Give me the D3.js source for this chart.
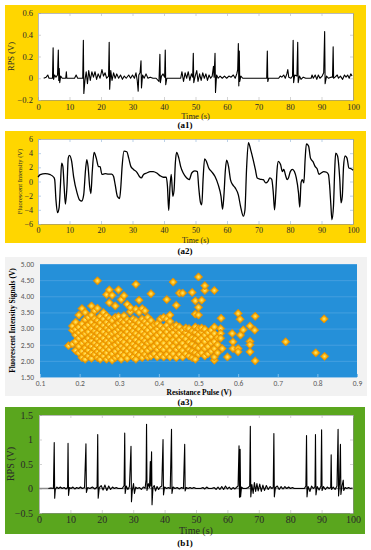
<!DOCTYPE html>
<html>
<head>
<meta charset="utf-8">
<script src="https://cdn.jsdelivr.net/npm/d3@7"></script>
<style>
body{margin:0;background:#fff}
svg{display:block}
</style>
</head>
<body>
<main></main>
<script>
// shared time axis for the three signal traces
var timeTicks = [0,10,20,30,40,50,60,70,80,90,100]

// (a1) resistance pulse signal, [time s, volts]
var rpsA1Ticks = [-0.2,0,0.2,0.4,0.6]
var rpsA1 = [[1.8,0],[2.6,0.01],[3.1,0.03],[3.5,0],[4.6,0],[4.8,0.28],[4.95,-0.01],[5.3,0.03],[5.7,0.01],[6.2,0.03],[6.45,0.26],[6.6,-0.02],[6.75,0.09],[6.9,-0.04],[7.2,0.02],[7.7,0],[8.8,0],[9.0,0.06],[9.15,0],[11.6,0],[12.1,0.03],[12.6,0],[14.2,0],[14.4,0.35],[14.55,-0.14],[14.9,-0.02],[15.3,0.06],[15.7,-0.05],[16.1,0.07],[16.6,-0.02],[17.1,0.06],[17.6,0.01],[18.1,0.06],[18.6,-0.01],[19.1,0.04],[19.7,0],[20.3,0.08],[20.8,0.02],[21.3,0.05],[21.8,0],[22.4,0.02],[22.6,0.33],[22.75,-0.1],[23.1,0.07],[23.5,-0.02],[24,0.05],[24.5,0],[25,0.04],[25.6,0],[26.2,0.03],[26.8,-0.01],[27.4,0.02],[28,0],[28.8,0.03],[29.4,0],[30,0.03],[30.6,0],[31.1,0.05],[31.5,-0.02],[31.8,-0.12],[32.0,0.03],[32.4,0.05],[32.7,0.16],[32.85,-0.09],[33.2,0.03],[33.7,0],[34.3,0.04],[34.9,0],[35.6,0.01],[36.5,0],[37.5,0],[38.4,-0.03],[38.7,0.22],[38.85,-0.04],[39.2,0.02],[39.7,0.04],[40.2,0.01],[40.4,0.26],[40.55,-0.06],[40.9,0],[45.3,0],[45.7,0.06],[46.2,-0.03],[46.7,0.05],[47.2,0],[47.7,0.06],[48.2,-0.02],[48.7,0.04],[49.1,0.01],[49.3,0.23],[49.45,-0.04],[49.9,0.02],[50.4,0.07],[50.8,-0.03],[51.3,0.04],[51.8,-0.02],[52.3,0.05],[52.8,0],[53.3,0.04],[53.8,-0.02],[54.3,0.03],[54.8,0],[55.3,0.02],[55.7,0.11],[55.9,0.01],[56.2,0.23],[56.35,-0.13],[56.7,0.03],[57.2,0],[57.8,0.02],[58.5,0],[59.2,0.02],[59.9,0],[60.6,0.02],[61.3,0.01],[62,0.03],[62.6,0],[63.1,0.04],[63.4,0.08],[63.6,0.32],[63.75,-0.07],[63.9,0.25],[64.05,-0.03],[64.4,0.02],[65,0],[72.6,0],[72.8,0.25],[72.95,-0.03],[73.2,0],[76.4,0],[76.9,0.02],[77.4,0.01],[78,0.03],[78.5,0],[79,0.04],[79.3,0.08],[79.6,0.01],[80.3,0],[80.8,0.02],[81.0,0.35],[81.15,-0.04],[81.5,0.03],[82.2,0.02],[82.45,0.33],[82.6,-0.04],[83,0.02],[83.5,-0.01],[84.2,0.01],[85,0],[86.7,0],[87,0.03],[87.4,0],[88,0.03],[88.5,-0.01],[89,0.03],[89.5,0],[90.2,0.02],[90.7,0.05],[91,0.43],[91.15,-0.05],[91.6,0.02],[92.2,0],[93,0.01],[93.5,0.01],[93.7,0.29],[93.85,0],[94.3,0.01],[95,0.03],[95.4,0],[96,0.02],[96.7,-0.01],[97.3,0.03],[97.8,0.01],[98.3,0.03],[98.8,0],[99.3,0.04],[99.7,0.02]]

// (a2) fluorescent intensity, [time s, volts]
var fluorTicks = [-6,-4,-2,0,2,4,6]
var fluorA2 = [[0,0.63],[0.7,0.96],[2.3,1.1],[3.9,0.96],[5,0.6],[5.3,0.26],[5.7,-2.6],[6.2,-4.4],[6.7,-3.7],[7.1,-0.7],[7.5,2.6],[7.9,2.1],[8.3,-0.7],[8.7,-3.2],[9.2,-0.7],[9.6,3.3],[10,3.7],[10.7,2.8],[11.3,0.7],[12.4,-1.6],[13.2,-2.6],[13.9,-2.75],[14.5,-1.9],[15.1,1.7],[15.5,3.1],[15.9,2.1],[16.4,-0.7],[16.8,-1.7],[17.2,1.2],[17.8,4.1],[18.5,3.3],[19.2,2.1],[19.7,2.1],[20.3,1.0],[21.3,1.1],[22.4,1.05],[23.4,1.05],[24,0.7],[24.5,-0.45],[25.2,-2.1],[25.9,-2.4],[26.3,-0.7],[26.7,2.1],[27.3,4.3],[28.2,4.2],[28.8,3.3],[29.5,2.1],[30.3,1.7],[31.4,1.3],[32.2,0.7],[32.8,0.5],[33.5,1.0],[34.5,1.2],[35.6,1.4],[36.6,1.4],[37.7,1.2],[38.8,0.8],[39.8,0.6],[40.7,0.6],[41.1,-0.7],[41.5,-4.1],[41.9,-0.7],[42.3,1.0],[42.8,-2.1],[43.2,-1.2],[43.6,2.6],[44,4.1],[44.7,3.3],[45.3,2.1],[46.1,1.2],[47.2,0.5],[48,0.26],[48.8,1.2],[49.8,1.5],[50.6,1.4],[51,-0.7],[51.6,-3.0],[52,-3.3],[52.4,0.26],[52.9,3.2],[53.5,2.8],[54.2,1.9],[55.1,1.4],[56.2,0.7],[57.2,-0.45],[58.1,-2.1],[58.6,-3.9],[59,-2.1],[59.5,1.7],[59.9,3.0],[60.5,2.1],[61.1,0.26],[61.8,-0.45],[62.6,-0.9],[63.6,-1.9],[64.3,-3.5],[65.2,-4.9],[65.7,-4.0],[66.2,1.7],[66.8,5.5],[67.5,4.5],[68.3,3.1],[69,1.7],[69.6,0.5],[70.4,0.35],[71.5,0.26],[72.3,-0.2],[73,0.03],[73.6,0.5],[74.2,0.3],[74.7,-1.6],[75.1,-4.0],[75.5,-1.6],[75.9,1.7],[76.3,2.85],[77,2.4],[77.6,1.4],[78,1.7],[78.7,0.7],[79.1,0.26],[79.5,0.5],[80.1,1.4],[80.8,1.7],[81.4,1.4],[82,0.5],[82.7,-1.6],[83.1,-3.6],[83.5,-0.2],[83.9,0.26],[84.4,-0.2],[84.8,3.1],[85.2,5.3],[85.9,5.0],[86.5,3.3],[87.3,2.8],[88,2.1],[88.6,1.8],[89.2,1.0],[89.9,1.2],[90.7,1.4],[91.6,1.3],[92.2,1.0],[92.6,-0.7],[93,-3.5],[93.3,-5.4],[93.8,-3.5],[94.2,1.7],[94.5,4.0],[95.1,3.6],[95.8,0.3],[96.2,-3.0],[96.6,-2.1],[97,2.1],[97.5,3.6],[98.1,3.3],[98.7,1.9],[99.4,1.8],[100,1.6]]

// (a3) scatter: resistance pulse vs fluorescent signal
var pulseTicks = [0.1,0.2,0.3,0.4,0.5,0.6,0.7,0.8,0.9]
var signalTicks = [1.5,2,2.5,3,3.5,4,4.5,5]
// dense part, one entry per pulse value with its signal readings
var clusterCols = [
  [0.172,[2.47]],
  [0.182,[2.52,2.95,3.08]],
  [0.19,[2.32,2.6,2.8,2.98,3.2]],
  [0.198,[2.25,2.45,2.7,2.88,3.05,3.42]],
  [0.206,[2.1,2.3,2.55,2.78,2.95,3.15,3.62]],
  [0.214,[2.05,2.22,2.4,2.62,2.85,3.05,3.28,3.5]],
  [0.222,[2.15,2.33,2.5,2.7,2.9,3.12,3.35]],
  [0.23,[2.08,2.25,2.45,2.62,2.8,3.0,3.2,3.42,3.7]],
  [0.238,[2.2,2.38,2.55,2.75,2.92,3.1,3.3,3.55]],
  [0.245,[2.1,2.28,2.48,2.68,2.86,3.05,3.25,3.63,4.48]],
  [0.252,[2.05,2.22,2.4,2.6,2.78,2.98,3.18,3.38]],
  [0.26,[2.15,2.32,2.52,2.7,2.9,3.1,3.3,3.5]],
  [0.268,[2.05,2.25,2.43,2.62,2.82,3.02,3.2,3.4,4.05]],
  [0.275,[2.12,2.35,2.55,2.75,2.95,3.12,3.32,3.8,4.2]],
  [0.282,[2.02,2.22,2.45,2.65,2.85,3.05,3.25,4.03]],
  [0.29,[2.1,2.3,2.5,2.7,2.9,3.1,3.35,3.7]],
  [0.298,[2.15,2.38,2.58,2.78,2.98,3.18,3.38,4.2]],
  [0.305,[2.05,2.25,2.45,2.65,2.85,3.05,3.25,3.9]],
  [0.312,[2.18,2.38,2.58,2.8,3.0,3.2,3.4,4.02]],
  [0.32,[2.08,2.3,2.5,2.7,2.9,3.1,3.28,3.75]],
  [0.328,[2.2,2.4,2.62,2.82,3.02,3.22,3.52,3.65]],
  [0.335,[2.12,2.32,2.52,2.72,2.92,3.12,3.3]],
  [0.342,[2.05,2.25,2.45,2.65,2.85,3.05,3.25,3.6,4.37]],
  [0.35,[2.18,2.38,2.58,2.78,2.98,3.18,3.5,3.88]],
  [0.358,[2.1,2.3,2.5,2.7,2.9,3.1,3.3,3.62]],
  [0.365,[2.2,2.42,2.62,2.82,3.02,3.22,3.55]],
  [0.372,[2.12,2.32,2.55,2.75,2.95,3.15,3.35]],
  [0.38,[2.15,2.4,2.6,2.85,3.05,3.25,4.08]],
  [0.388,[2.22,2.45,2.7,2.92,3.12]],
  [0.396,[2.12,2.35,2.55,2.8,3.0,3.15]],
  [0.404,[2.2,2.42,2.65,2.88,3.08,3.3]],
  [0.412,[2.12,2.35,2.55,2.78,3.0,3.35]],
  [0.42,[2.2,2.45,2.68,2.9,3.1,3.3,3.9]],
  [0.428,[2.12,2.32,2.55,2.8,3.0,3.22,3.42]],
  [0.436,[2.22,2.45,2.65,2.88,3.05,4.44]],
  [0.444,[2.1,2.35,2.58,2.78,2.98,3.1,3.72]],
  [0.452,[2.2,2.42,2.65,2.88,3.05,4.1]],
  [0.46,[2.12,2.32,2.55,2.75,2.95,4.1]],
  [0.468,[2.22,2.45,2.68,2.88,3.02]],
  [0.476,[2.15,2.35,2.58,2.8,3.0]],
  [0.484,[2.1,2.3,2.52,2.72,2.92,4.12]],
  [0.492,[2.05,2.25,2.45,2.68,2.88,3.05,3.45,3.86]],
  [0.5,[2.2,2.4,2.62,2.82,3.0,3.42,3.66,4.6]],
  [0.508,[2.25,2.48,2.7,2.9,3.02,3.88]],
  [0.516,[2.15,2.38,2.6,2.8,2.98,4.18,4.33]],
  [0.524,[2.22,2.45,2.68,2.88]],
  [0.532,[2.3,2.55,2.75,2.95]],
  [0.54,[2.02,2.12,2.38,2.6,2.85,3.05,4.18]],
  [0.548,[2.25,2.5,2.72]]
]
// sparse points to the right of the cluster, [pulse, signal]
var outliers = [[0.556,3.0],[0.556,2.85],[0.556,2.7],[0.557,3.32],[0.56,2.38],[0.573,2.12],[0.585,2.85],[0.587,2.59],[0.587,2.38],[0.6,3.47],[0.6,2.38],[0.6,2.28],[0.605,3.29],[0.606,2.8],[0.613,2.96],[0.63,3.08],[0.63,2.6],[0.63,2.5],[0.63,2.28],[0.642,2.95],[0.643,3.38],[0.643,2.0],[0.72,2.59],[0.796,2.25],[0.818,2.14],[0.817,3.3]]

// (b1) resistance pulse signal, second sample
var rpsB1Ticks = [-0.5,0,0.5,1,1.5]
var rpsB1 = [[3,0],[3.8,0.01],[4.6,0],[4.85,0.94],[5.0,-0.2],[5.2,-0.02],[5.7,0.03],[6.2,0],[6.8,0.03],[7.4,0],[8,0.02],[8.6,-0.01],[9.1,0.02],[9.25,0.92],[9.4,-0.14],[9.7,0.02],[10.2,0],[10.8,0.03],[11.4,-0.01],[12,0.02],[12.6,0],[13.2,0.03],[13.8,0],[14.5,0.02],[14.95,0.91],[15.1,-0.08],[15.5,0.02],[16.2,0],[17,0.03],[17.8,-0.01],[18.5,0.03],[18.7,1.1],[18.85,-0.2],[19.2,0.02],[19.8,0.06],[20.4,-0.03],[21,0.07],[21.6,-0.04],[22.2,0.05],[22.8,-0.02],[23.4,0.03],[24,0],[24.6,0.02],[25.2,0],[26.5,0],[27.1,0.06],[27.3,1.13],[27.45,-0.1],[27.8,0.05],[28.3,-0.02],[28.8,0.04],[29.3,0.86],[29.45,-0.27],[29.7,-0.05],[30.1,0.1],[30.4,-0.1],[30.8,0.03],[31.3,0],[32,0.02],[32.6,-0.02],[33.2,0.03],[33.8,0.01],[34.1,0.18],[34.25,1.31],[34.4,-0.04],[34.8,0.1],[35.2,0.02],[35.45,0.55],[35.6,0.05],[35.85,0.75],[36,-0.33],[36.3,0.02],[36.7,0.06],[37.1,-0.05],[37.6,0.04],[38.1,-0.02],[38.6,0.03],[39.1,0.05],[39.5,1.0],[39.65,-0.13],[40,0.03],[40.6,0],[41.2,0.02],[41.8,0],[42.2,1.21],[42.35,-0.1],[42.7,0.03],[43.3,0],[44,0.02],[44.7,-0.01],[45.4,0.02],[46,0],[46.4,0.9],[46.55,-0.05],[46.9,0.02],[47.5,0],[48.1,0.02],[48.7,0],[49.3,0.02],[50,0],[51.5,0],[52.2,0.02],[52.8,-0.01],[53.4,0.03],[54,0],[55,0],[55.8,0.02],[56.4,-0.02],[57,0.03],[57.6,-0.02],[58.2,0.04],[58.8,-0.02],[59.4,0.05],[60,-0.01],[60.6,0.03],[61.2,-0.02],[61.8,0.02],[62.4,-0.01],[63,0.03],[63.4,0.05],[63.7,0.87],[63.85,-0.18],[64.05,0.8],[64.2,-0.17],[64.5,0.03],[65,0],[66,0],[66.6,0.02],[67.1,0.05],[67.3,1.27],[67.45,-0.17],[67.8,0.08],[68.2,-0.1],[68.6,0.12],[69,-0.06],[69.4,0.1],[69.8,-0.05],[70.3,0.09],[70.8,-0.06],[71.3,0.07],[71.8,-0.04],[72.4,0.06],[73,-0.02],[73.6,0.04],[74.2,0],[74.6,0.03],[74.8,1.12],[74.95,-0.17],[75.3,0.02],[75.9,0.05],[76.5,-0.02],[77.1,0.04],[77.7,-0.01],[78.3,0.04],[78.9,0],[79.5,0.03],[80.1,0],[80.7,0.02],[81.3,0],[84.5,0],[85.0,0.05],[85.2,1.08],[85.35,-0.17],[85.7,0.04],[86.3,-0.06],[86.8,0.05],[87.4,0],[87.9,0.04],[88.05,1.1],[88.2,-0.13],[88.6,0.04],[89.2,-0.03],[89.8,0.05],[90.0,1.2],[90.15,-0.04],[90.6,0.04],[91.2,-0.02],[91.8,0.03],[92.4,0],[92.9,0.02],[93.05,0.69],[93.2,-0.02],[93.7,0.03],[94.3,-0.02],[94.9,0.05],[95.25,1.21],[95.4,-0.15],[95.7,0.1],[96.0,0.9],[96.15,-0.12],[96.5,0.05],[96.9,0.17],[97.05,-0.04],[97.5,0.02],[98,0],[98.6,0.02],[99.2,0],[99.8,0.01]]

var serif = 'Liberation Serif, Times New Roman, serif'
var sans = 'Carlito, Liberation Sans, Arial, sans-serif'

var svg = d3.select('main')
    .append('svg')
    .attr('width',371)
    .attr('height',550)

function caption(txt, y){
  svg.append('text')
      .attr('x',185)
      .attr('y',y)
      .attr('text-anchor','middle')
      .style('font-family',serif)
      .style('font-weight','bold')
      .style('font-size','9px')
      .text(txt)
}

// matlab style line panel
function linePanel(p){
  svg.append('rect')
      .attr('x',5).attr('y',p.frameTop)
      .attr('width',p.frameW).attr('height',p.frameH)
      .attr('fill',p.bg)

  var x = d3.scaleLinear().domain([0,100]).range([p.left,p.right])
  var y = d3.scaleLinear().domain([p.ticks[0],p.ticks[p.ticks.length-1]]).range([p.bottom,p.top])

  svg.append('rect')
      .attr('x',p.left).attr('y',p.top)
      .attr('width',p.right-p.left).attr('height',p.bottom-p.top)
      .attr('fill','#fff')

  var g = svg.append('g')
  g.append('g')
      .attr('transform','translate(0,'+p.bottom+')')
      .call(d3.axisBottom(x).tickValues(timeTicks).tickSizeInner(-3).tickSizeOuter(0).tickPadding(p.pad))
  g.append('g')
      .attr('transform','translate('+p.left+',0)')
      .call(d3.axisLeft(y).tickValues(p.ticks).tickSizeInner(-3).tickSizeOuter(0).tickPadding(p.padY)
          .tickFormat(function(d){ return d3.format('')(+d.toFixed(1)) }))
  g.append('g')
      .attr('transform','translate(0,'+p.top+')')
      .call(d3.axisTop(x).tickValues(timeTicks).tickSizeInner(-3).tickSizeOuter(0).tickFormat(''))
  g.append('g')
      .attr('transform','translate('+p.right+',0)')
      .call(d3.axisRight(y).tickValues(p.ticks).tickSizeInner(-3).tickSizeOuter(0).tickFormat(''))

  g.selectAll('.domain').attr('stroke','#8a8a8a').attr('stroke-width',0.6)
  g.selectAll('.tick line').attr('stroke',p.tickColor).attr('stroke-width',0.6)
  g.selectAll('text')
      .attr('fill','#2a2a2a')
      .style('font-family',serif)
      .style('font-size',p.font+'px')

  if(p.zeroLine){
    svg.append('line')
        .attr('x1',x(0)).attr('x2',x(100))
        .attr('y1',y(0)).attr('y2',y(0))
        .attr('stroke','#8c8c8c')
        .attr('stroke-width',1.4)
  }

  var line = d3.line()
      .x(function(d){ return x(d[0]) })
      .y(function(d){ return y(d[1]) })
  if(p.smooth) line.curve(d3.curveMonotoneX)

  svg.append('path')
      .datum(p.data)
      .attr('d',line)
      .attr('fill','none')
      .attr('stroke','#000')
      .attr('stroke-width',p.lineW)
      .attr('stroke-linejoin','round')

  svg.append('text')
      .attr('x',(p.left+p.right)/2)
      .attr('y',p.timeY)
      .attr('text-anchor','middle')
      .attr('fill','#2a2a2a')
      .style('font-family',serif)
      .style('font-size',p.font+'px')
      .text('Time (s)')

  svg.append('text')
      .attr('transform','translate('+p.labelX+','+(p.top+p.bottom)/2+') rotate(-90)')
      .attr('text-anchor','middle')
      .attr('fill','#2a2a2a')
      .style('font-family',serif)
      .style('font-size',p.labelFont+'px')
      .text(p.label)
}

// (a1)
linePanel({frameTop:5, frameW:361, frameH:114, bg:'#ffd600',
  left:38, right:353, top:13, bottom:100, ticks:rpsA1Ticks, data:rpsA1,
  pad:4, padY:5, font:8.5, tickColor:'#b5b5b5', lineW:1.1, timeY:119,
  label:'RPS (V)', labelX:14, labelFont:8.5})
caption('(a1)',128)

// (a2)
linePanel({frameTop:131, frameW:361, frameH:112, bg:'#ffd600',
  left:38, right:353, top:139, bottom:224, ticks:fluorTicks, data:fluorA2,
  pad:3, padY:5, font:8, tickColor:'#8fb3d9', lineW:1.3, timeY:242.5, smooth:true,
  label:'Fluorescent Intensity (V)', labelX:22, labelFont:6.5})
caption('(a2)',254)

// (a3) scatter panel
var scatterPts = []
clusterCols.forEach(function(c){
  c[1].forEach(function(v){ scatterPts.push([c[0],v]) })
})
scatterPts = scatterPts.concat(outliers)

svg.append('rect')
    .attr('x',5).attr('y',257)
    .attr('width',362).attr('height',139)
    .attr('fill','#f2f2f2')

var px = d3.scaleLinear().domain([0.1,0.9]).range([40,357])
var py = d3.scaleLinear().domain([1.5,5]).range([377,264])

svg.append('rect')
    .attr('x',40).attr('y',264)
    .attr('width',317).attr('height',113)
    .attr('fill','#2590d9')

var grid = svg.append('g')
    .attr('transform','translate(40,0)')
    .call(d3.axisLeft(py).tickValues(signalTicks).tickSize(-317).tickFormat(''))
grid.select('.domain').remove()
grid.selectAll('line').attr('stroke','#5aaae4').attr('stroke-width',0.6)

var sy = svg.append('g')
    .attr('transform','translate(38,0)')
    .call(d3.axisLeft(py).tickValues(signalTicks).tickSize(0).tickPadding(4).tickFormat(d3.format('.2f')))
var sx = svg.append('g')
    .attr('transform','translate(0,377)')
    .call(d3.axisBottom(px).tickValues(pulseTicks).tickSizeInner(-3).tickSizeOuter(0).tickPadding(4).tickFormat(d3.format('.1f')))
sy.select('.domain').remove()
sx.select('.domain').remove()
sx.selectAll('line').attr('stroke','#7fbde9')
sx.selectAll('text').attr('fill','#595959').style('font-family',sans).style('font-size','7.5px')
sy.selectAll('text').attr('fill','#595959').style('font-family',sans).style('font-size','7.5px')

var defs = svg.append('defs')
var grad = defs.append('radialGradient').attr('id','dot')
grad.append('stop').attr('offset','0%').attr('stop-color','#ffe680')
grad.append('stop').attr('offset','55%').attr('stop-color','#ffc21a')
grad.append('stop').attr('offset','100%').attr('stop-color','#f09a00')

svg.append('g')
    .selectAll('path').data(scatterPts)
    .enter().append('path')
        .attr('d',d3.symbol().type(d3.symbolSquare).size(34))
        .attr('transform',function(d){
            return 'translate('+px(d[0])+','+py(d[1])+') rotate(45)'
        })
        .attr('fill','url(#dot)')
        .attr('stroke','#e58e00')
        .attr('stroke-width',0.7)

svg.append('text')
    .attr('transform','translate(15,320.5) rotate(-90)')
    .attr('text-anchor','middle')
    .style('font-family',serif)
    .style('font-weight','bold')
    .style('font-size','7.5px')
    .text('Fluorescent Intensity Signals (V)')

svg.append('text')
    .attr('x',199)
    .attr('y',395)
    .attr('text-anchor','middle')
    .style('font-family',serif)
    .style('font-weight','bold')
    .style('font-size','7.5px')
    .text('Resistance Pulse (V)')
caption('(a3)',405)

// (b1)
linePanel({frameTop:407, frameW:360, frameH:127, bg:'#5aa61e',
  left:39, right:353, top:415, bottom:513, ticks:rpsB1Ticks, data:rpsB1,
  pad:3, padY:6, font:10, tickColor:'#b5b5b5', lineW:1.1, timeY:534, zeroLine:true,
  label:'RPS (V)', labelX:14, labelFont:10})
caption('(b1)',546)
</script>
</body>
</html>
